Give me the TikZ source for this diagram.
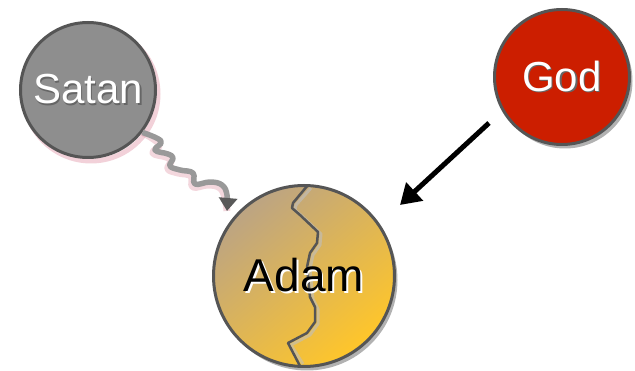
\documentclass[tikz,border=0pt]{standalone}
\usepackage{fontspec}
\setmainfont{Liberation Sans}
\usepackage{tikz}
\usetikzlibrary{arrows.meta, shadows, calc}

\definecolor{rimgray}{HTML}{555555}
\definecolor{satangray}{HTML}{8E8E8E}
\definecolor{godred}{HTML}{CC1E00}
\definecolor{adamtan}{HTML}{BCA483}
\definecolor{adampeach}{HTML}{FAD39C}
\definecolor{adamgold}{HTML}{FFC62A}
\definecolor{glowpink}{HTML}{E29AAA}

% text with a small offset shadow
\newcommand{\shtext}[2]{\leavevmode\rlap{\kern1.5pt\raisebox{-1.5pt}{\textcolor{#2}{#1}}}#1}

\begin{document}
\begin{tikzpicture}[
    x=1pt, y=-1pt,
    being/.style={circle, draw=rimgray, line width=3pt, inner sep=0pt,
                  minimum size=135pt, text=white, font=\fontsize{42}{42}\selectfont},
    adambox/.style={circle, draw=rimgray, line width=3pt, inner sep=0pt,
                  minimum size=181pt, text=black, font=\fontsize{46}{46}\selectfont,
                  shading=axis, top color=adamtan, middle color=adampeach,
                  bottom color=adamgold, shading angle=40},
    shadowed/.style={drop shadow={shadow xshift=3pt, shadow yshift=-4pt,
                  opacity=0.3, fill=black}},
    crack/.style={draw=rimgray, line width=2.5pt, line join=round},
    wavy/.style={draw=gray!80, line width=5.5pt, line join=round,
                 -{Triangle[length=13pt, width=18pt, color=black!65]}},
    arr/.style={-{Triangle[length=20pt, width=24pt]}, line width=5pt},
]
\useasboundingbox (0,0) rectangle (635,371);

% Glow behind Satan
\draw[glowpink, line width=5pt, opacity=0.45] (91,94) circle[radius=67];

% Nodes
\node[being, fill=satangray] (satan) at (88,90) {\shtext{Satan}{black!60}};
\node[being, fill=godred, shadowed] (god) at (562,77) {\shtext{God}{black!60}};
\node[adambox, shadowed] (adam) at (304,276) {};

% Crack through Adam
\begin{scope}[shift={(adam.center)}]
\draw[black!25, line width=3pt, line join=round, opacity=0.6]
    (7,-88) -- (-8,-71) -- (-9,-66) -- (-1,-59) -- (17,-42) -- (16,-31)
    -- (9,-21) -- (6,-7) -- (9,23) -- (14,33) -- (14,48) -- (6,59)
    -- (-13,69) -- (-1,88);
\draw[crack]
    (4,-91) -- (-11,-73) -- (-12,-68) -- (-4,-61) -- (14,-44) -- (13,-33)
    -- (6,-23) -- (3,-9) -- (6,21) -- (11,31) -- (11,46) -- (3,57)
    -- (-16,67) -- (-4,90);
\end{scope}
\node[font=\fontsize{46}{46}\selectfont] (adamlabel) at (adam.center) {\shtext{Adam}{white}};

% Temptation from Satan
\coordinate (bite) at ([shift={(-77,-65)}]adam.center);
\draw[glowpink, line width=7pt, opacity=0.4, line join=round, xshift=-2pt, yshift=-3pt]
    plot[smooth, tension=0.7] coordinates {(satan.-38) (161,141) (155,150) (168,154)
    (173,158) (170,166) (180,170) (193,173) (195,184) (210,182) (222,185) (227,195) (bite)};
\draw[wavy]
    plot[smooth, tension=0.7] coordinates {(satan.-38) (161,141) (155,150) (168,154)
    (173,158) (170,166) (180,170) (193,173) (195,184) (210,182) (222,185) (227,195) (bite)};

% Word from God
\coordinate (godout) at ([shift={(-73,46)}]god.center);
\coordinate (adamin) at ([shift={(96,-71)}]adam.center);
\draw[arr] (godout) -- (adamin);

\end{tikzpicture}
\end{document}
